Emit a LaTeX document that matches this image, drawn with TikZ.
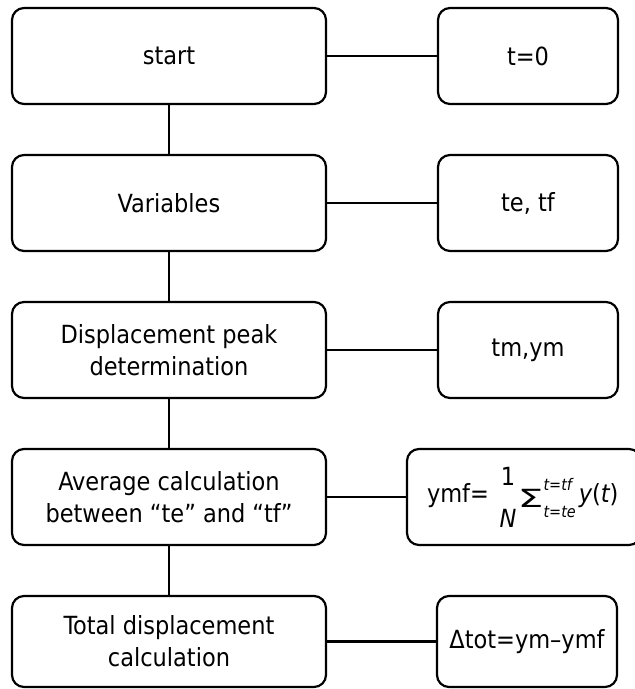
\documentclass[tikz,border=0pt]{standalone}
\usepackage{graphicx}
\usepackage{fontspec}
\setmainfont{DejaVu Sans Condensed}
\usepackage{tikz}

% small italic limits of the sum
\newcommand{\limtext}[1]{{\fontsize{16}{16}\selectfont\itshape #1}}

\begin{document}
\begin{tikzpicture}[x=1pt,y=-1pt,
    stepbox/.style={draw,line width=2.2pt,rounded corners=12pt,align=center,
                    inner sep=0pt,minimum height=96pt,
                    font=\fontsize{25}{32}\selectfont},
    leftbox/.style={stepbox,minimum width=314pt},
    rightbox/.style={stepbox,minimum width=180pt},
    link/.style={line width=2.2pt}]
  % ------- parameters -------
  \def\LX{169}   % centre of the left column
  \def\RX{528}   % centre of the right column

  \useasboundingbox (0,0) rectangle (635,689);

  % ------- left column -------
  \node[leftbox] (start) at (\LX,56)  {start};
  \node[leftbox] (vars)  at (\LX,203) {Variables};
  \node[leftbox] (peak)  at (\LX,350) {Displacement peak\\determination};
  \node[leftbox] (avg)   at (\LX,497) {Average calculation\\between “te” and “tf”};
  \node[leftbox,minimum height=91pt] (total) at (\LX,641.5) {Total displacement\\calculation};

  % ------- right column -------
  \node[rightbox] (tzero) at (\RX,56)  {t=0};
  \node[rightbox] (tetf)  at (\RX,203) {te, tf};
  \node[rightbox] (tmym)  at (\RX,350) {tm,ym};
  \node[stepbox,text width=234pt,align=left] (ymf) at (524,497)
       {\hspace*{20pt}ymf=\hspace{9pt}%
        \makebox[0pt][l]{\makebox[20pt]{\raisebox{17pt}{1}}}%
        \makebox[20pt]{\raisebox{-25pt}{\itshape N}}%
        \raisebox{-5pt}{\scalebox{1.8}[1]{Σ}}%
        \makebox[0pt][l]{\raisebox{12pt}{\limtext{t=tf}}}%
        \raisebox{-15pt}{\limtext{t=te}}\hspace{3pt}%
        {\itshape y}({\itshape t})};
  \node[rightbox,minimum height=91pt] (dtot) at (527,641.5) {Δtot=ym–ymf};

  % ------- connectors -------
  \draw[link] (start) -- (vars);
  \draw[link] (vars)  -- (peak);
  \draw[link] (peak)  -- (avg);
  \draw[link] (avg)   -- (total);
  \draw[link] (start) -- (tzero);
  \draw[link] (vars)  -- (tetf);
  \draw[link] (peak)  -- (tmym);
  \draw[link] (avg)   -- (ymf);
  \draw[link] (total) -- (dtot);
\end{tikzpicture}
\end{document}
